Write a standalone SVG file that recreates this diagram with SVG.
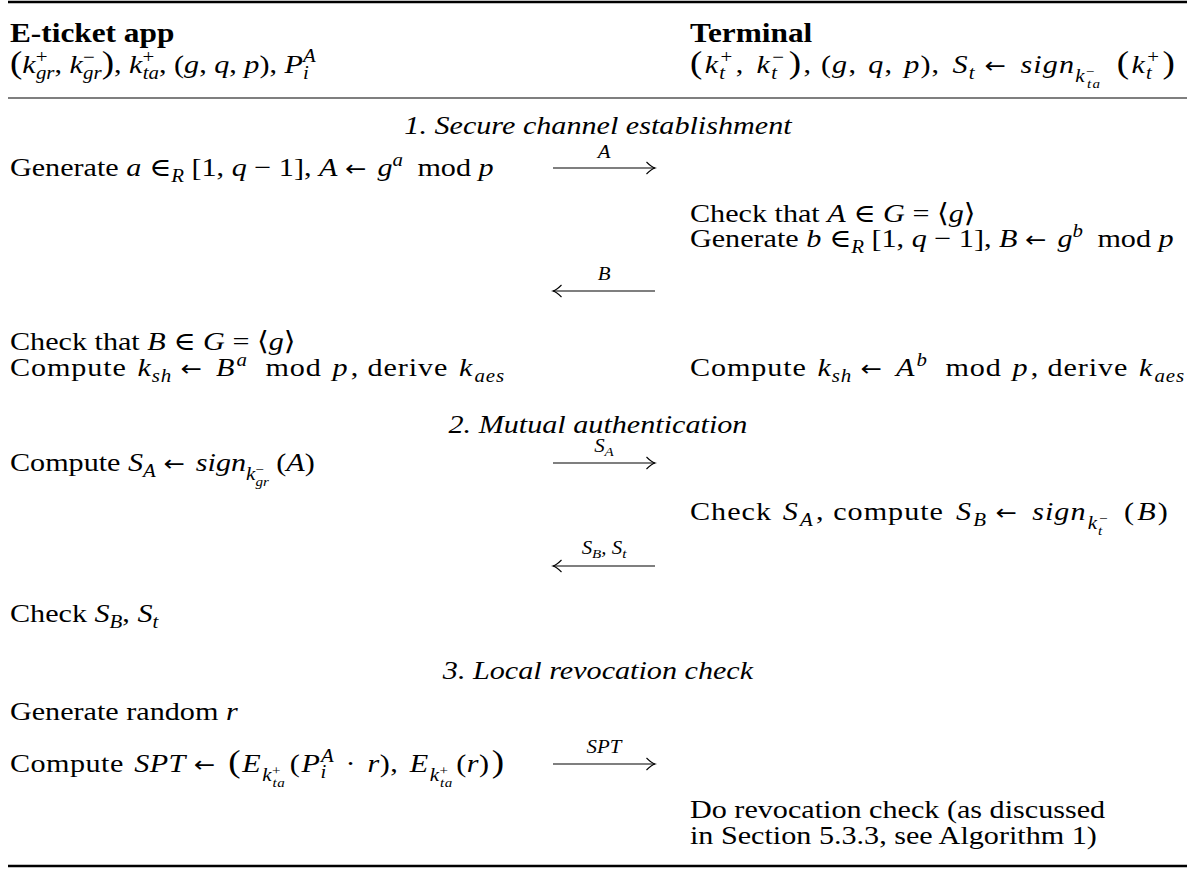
<svg xmlns="http://www.w3.org/2000/svg" width="1195" height="869" viewBox="0 0 1195 869">
<defs>
<style>
text { font-family: "Liberation Serif", "DejaVu Serif", serif; font-size: 26px; fill: #000; }
.b { font-weight: bold; font-size: 27px; }
.i { font-style: italic; }
.s { font-size: 18px; }
.ss { font-size: 13px; }
.bp { font-size: 32px; }
.ar { font-family: "DejaVu Sans", sans-serif; font-size: 22px; }
.title { font-style: italic; text-anchor: middle; }
.lbl { font-style: italic; font-size: 18px; text-anchor: middle; }
.rule { stroke: #000; }
.msg { stroke: #000; stroke-width: 1.1; fill: none; marker-end: url(#ah); }
</style>
<marker id="ah" viewBox="-10 -7 12 14" refX="0" refY="0" markerWidth="12" markerHeight="14" markerUnits="userSpaceOnUse" orient="auto">
<path d="M -8.5 -6 Q -3.5 -1 0 0 Q -3.5 1 -8.5 6" fill="none" stroke="#000" stroke-width="1.1"/>
</marker>
</defs>
<rect width="1195" height="869" fill="#fff"/>

<g id="rules">
<line class="rule" x1="8" y1="2" x2="1187" y2="2" stroke-width="2.5"/>
<line class="rule" x1="8" y1="98" x2="1187" y2="98" stroke-width="1.2"/>
<line class="rule" x1="8" y1="866" x2="1187" y2="866" stroke-width="2.5"/>
</g>

<g id="table" transform="scale(1.16 1)">
<g id="app-header">
<text x="8.6" y="42" class="b">E-ticket app</text>
<text x="8.6" y="73"><tspan class="bp">(</tspan><tspan class="i">k</tspan><tspan class="s" dy="-10">+</tspan><tspan class="s i" dx="-10" dy="16">gr</tspan><tspan dy="-6">, </tspan><tspan class="i">k</tspan><tspan class="s" dy="-10">−</tspan><tspan class="s i" dx="-10" dy="16">gr</tspan><tspan class="bp" dy="-6">)</tspan><tspan>, </tspan><tspan class="i">k</tspan><tspan class="s" dy="-10">+</tspan><tspan class="s i" dx="-10" dy="16">ta</tspan><tspan dy="-6">, (</tspan><tspan class="i">g</tspan><tspan>, </tspan><tspan class="i">q</tspan><tspan>, </tspan><tspan class="i">p</tspan><tspan>), </tspan><tspan class="i">P</tspan><tspan class="s i" dy="6">i</tspan><tspan class="s i" dx="-5" dy="-17">A</tspan></text>
</g>
<g id="terminal-header">
<text x="594.8" y="42" class="b">Terminal</text>
<text x="594.8" y="73" textLength="418"><tspan class="bp">(</tspan><tspan class="i" dx="1">k</tspan><tspan class="s i" dy="6">t</tspan><tspan class="s" dx="-5" dy="-16">+</tspan><tspan dy="10" dx="2">, </tspan><tspan class="i" dx="3">k</tspan><tspan class="s i" dy="6">t</tspan><tspan class="s" dx="-5" dy="-16">−</tspan><tspan class="bp" dy="10" dx="3">)</tspan><tspan dx="1">, (</tspan><tspan class="i">g</tspan><tspan>, </tspan><tspan class="i" dx="2">q</tspan><tspan>, </tspan><tspan class="i" dx="2">p</tspan><tspan>), </tspan><tspan class="i" dx="3">S</tspan><tspan class="s i" dy="6">t</tspan><tspan dy="-6"> </tspan><tspan class="ar">←</tspan><tspan dx="2"> </tspan><tspan class="i" dx="2">sign</tspan><tspan class="s i" dy="9">k</tspan><tspan class="ss" dy="-6">−</tspan><tspan class="ss i" dx="-7.3" dy="12">ta</tspan><tspan dy="-15"> </tspan><tspan class="bp" dx="6">(</tspan><tspan class="i" dx="1">k</tspan><tspan class="s i" dy="6">t</tspan><tspan class="s" dx="-5" dy="-16">+</tspan><tspan class="bp" dy="10" dx="2">)</tspan></text>
</g>

<g id="step1-title"><text x="515.5" y="134" class="title">1. Secure channel establishment</text></g>

<g id="app-generate-a">
<text x="8.6" y="176"><tspan>Generate </tspan><tspan class="i">a</tspan><tspan> ∈</tspan><tspan class="s i" dy="6">R</tspan><tspan dy="-6"> [1, </tspan><tspan class="i">q</tspan><tspan> − 1], </tspan><tspan class="i">A</tspan><tspan> </tspan><tspan class="ar">←</tspan><tspan dx="3"> </tspan><tspan class="i">g</tspan><tspan class="s i" dy="-10">a</tspan><tspan dy="10" dx="6"> mod </tspan><tspan class="i">p</tspan></text>
</g>
<g id="terminal-check-a">
<text x="594.8" y="222"><tspan>Check that </tspan><tspan class="i">A</tspan><tspan> ∈ </tspan><tspan class="i">G</tspan><tspan> = ⟨</tspan><tspan class="i">g</tspan><tspan>⟩</tspan></text>
<text x="594.8" y="247"><tspan>Generate </tspan><tspan class="i">b</tspan><tspan> ∈</tspan><tspan class="s i" dy="6">R</tspan><tspan dy="-6"> [1, </tspan><tspan class="i">q</tspan><tspan> − 1], </tspan><tspan class="i">B</tspan><tspan> </tspan><tspan class="ar">←</tspan><tspan dx="3"> </tspan><tspan class="i">g</tspan><tspan class="s i" dy="-10">b</tspan><tspan dy="10" dx="6"> mod </tspan><tspan class="i">p</tspan></text>
</g>
<g id="app-check-b">
<text x="8.6" y="350"><tspan>Check that </tspan><tspan class="i">B</tspan><tspan> ∈ </tspan><tspan class="i">G</tspan><tspan> = ⟨</tspan><tspan class="i">g</tspan><tspan>⟩</tspan></text>
<text x="8.6" y="376" textLength="426"><tspan>Compute </tspan><tspan class="i" dx="2">k</tspan><tspan class="s i" dy="6">sh</tspan><tspan dy="-6"> </tspan><tspan class="ar">←</tspan><tspan dx="3"> </tspan><tspan class="i" dx="1">B</tspan><tspan class="s i" dy="-10" dx="1">a</tspan><tspan dy="10" dx="8"> mod </tspan><tspan class="i" dx="2">p</tspan><tspan dx="2">, derive </tspan><tspan class="i" dx="2">k</tspan><tspan class="s i" dy="6" dx="1">aes</tspan></text>
</g>
<g id="terminal-compute-ksh">
<text x="594.8" y="376" textLength="426"><tspan>Compute </tspan><tspan class="i" dx="2">k</tspan><tspan class="s i" dy="6">sh</tspan><tspan dy="-6"> </tspan><tspan class="ar">←</tspan><tspan dx="3"> </tspan><tspan class="i" dx="1">A</tspan><tspan class="s i" dy="-10" dx="1">b</tspan><tspan dy="10" dx="8"> mod </tspan><tspan class="i" dx="2">p</tspan><tspan dx="2">, derive </tspan><tspan class="i" dx="2">k</tspan><tspan class="s i" dy="6" dx="1">aes</tspan></text>
</g>

<g id="step2-title"><text x="515.5" y="433" class="title">2. Mutual authentication</text></g>

<g id="app-compute-sa">
<text x="8.6" y="471"><tspan>Compute </tspan><tspan class="i">S</tspan><tspan class="s i" dy="6">A</tspan><tspan dy="-6"> </tspan><tspan class="ar">←</tspan><tspan dx="3"> </tspan><tspan class="i">sign</tspan><tspan class="s i" dy="9">k</tspan><tspan class="ss" dy="-6">−</tspan><tspan class="ss i" dx="-7.3" dy="12">gr</tspan><tspan dy="-15"> (</tspan><tspan class="i">A</tspan><tspan>)</tspan></text>
</g>
<g id="terminal-check-sa">
<text x="594.8" y="520" textLength="412"><tspan>Check </tspan><tspan class="i" dx="2">S</tspan><tspan class="s i" dy="6" dx="1">A</tspan><tspan dy="-6" dx="2">, compute </tspan><tspan class="i" dx="3">S</tspan><tspan class="s i" dy="6" dx="1">B</tspan><tspan dy="-6"> </tspan><tspan class="ar">←</tspan><tspan dx="3"> </tspan><tspan class="i" dx="2">sign</tspan><tspan class="s i" dy="9" dx="1">k</tspan><tspan class="ss i" dy="6">t</tspan><tspan class="ss" dx="-3.6" dy="-12">−</tspan><tspan dy="-3" dx="6"> (</tspan><tspan class="i" dx="2">B</tspan><tspan dx="1">)</tspan></text>
</g>
<g id="app-check-sb">
<text x="8.6" y="622"><tspan>Check </tspan><tspan class="i">S</tspan><tspan class="s i" dy="6">B</tspan><tspan dy="-6">, </tspan><tspan class="i">S</tspan><tspan class="s i" dy="6">t</tspan></text>
</g>

<g id="step3-title"><text x="515.5" y="679" class="title">3. Local revocation check</text></g>

<g id="app-generate-r">
<text x="8.6" y="720"><tspan>Generate random </tspan><tspan class="i">r</tspan></text>
</g>
<g id="app-compute-spt">
<text x="8.6" y="772" textLength="426"><tspan>Compute </tspan><tspan class="i" dx="2">SPT</tspan><tspan> </tspan><tspan class="ar">←</tspan><tspan dx="3"> </tspan><tspan class="bp" dx="1">(</tspan><tspan class="i" dx="1">E</tspan><tspan class="s i" dy="9" dx="1">k</tspan><tspan class="ss" dy="-6">+</tspan><tspan class="ss i" dx="-7.3" dy="12">ta</tspan><tspan dy="-15" dx="4">(</tspan><tspan class="i" dx="1">P</tspan><tspan class="s i" dy="6">i</tspan><tspan class="s i" dx="-5" dy="-16">A</tspan><tspan dy="10" dx="3"> · </tspan><tspan class="i" dx="3">r</tspan><tspan>), </tspan><tspan class="i" dx="3">E</tspan><tspan class="s i" dy="9" dx="1">k</tspan><tspan class="ss" dy="-6">+</tspan><tspan class="ss i" dx="-7.3" dy="12">ta</tspan><tspan dy="-15" dx="3">(</tspan><tspan class="i">r</tspan><tspan>)</tspan><tspan class="bp" dx="2">)</tspan></text>
</g>
<g id="terminal-revocation-check">
<text x="594.8" y="818">Do revocation check (as discussed</text>
<text x="594.8" y="844">in Section 5.3.3, see Algorithm 1)</text>
</g>
</g>

<g id="connectors">
<path class="msg" d="M553 168 H655"/>
<path class="msg" d="M655 291 H553"/>
<path class="msg" d="M553 463 H655"/>
<path class="msg" d="M655 566 H553"/>
<path class="msg" d="M553 764 H655"/>
<g transform="scale(1.16 1)">
<text x="520.7" y="158" class="lbl">A</text>
<text x="520.7" y="280" class="lbl">B</text>
<text x="520.7" y="452" class="lbl">S<tspan font-size="13" dy="4">A</tspan></text>
<text x="520.7" y="554" class="lbl">S<tspan font-size="13" dy="4">B</tspan><tspan dy="-4">, S</tspan><tspan font-size="13" dy="4">t</tspan></text>
<text x="520.7" y="753" class="lbl">SPT</text>
</g>
</g>
</svg>
